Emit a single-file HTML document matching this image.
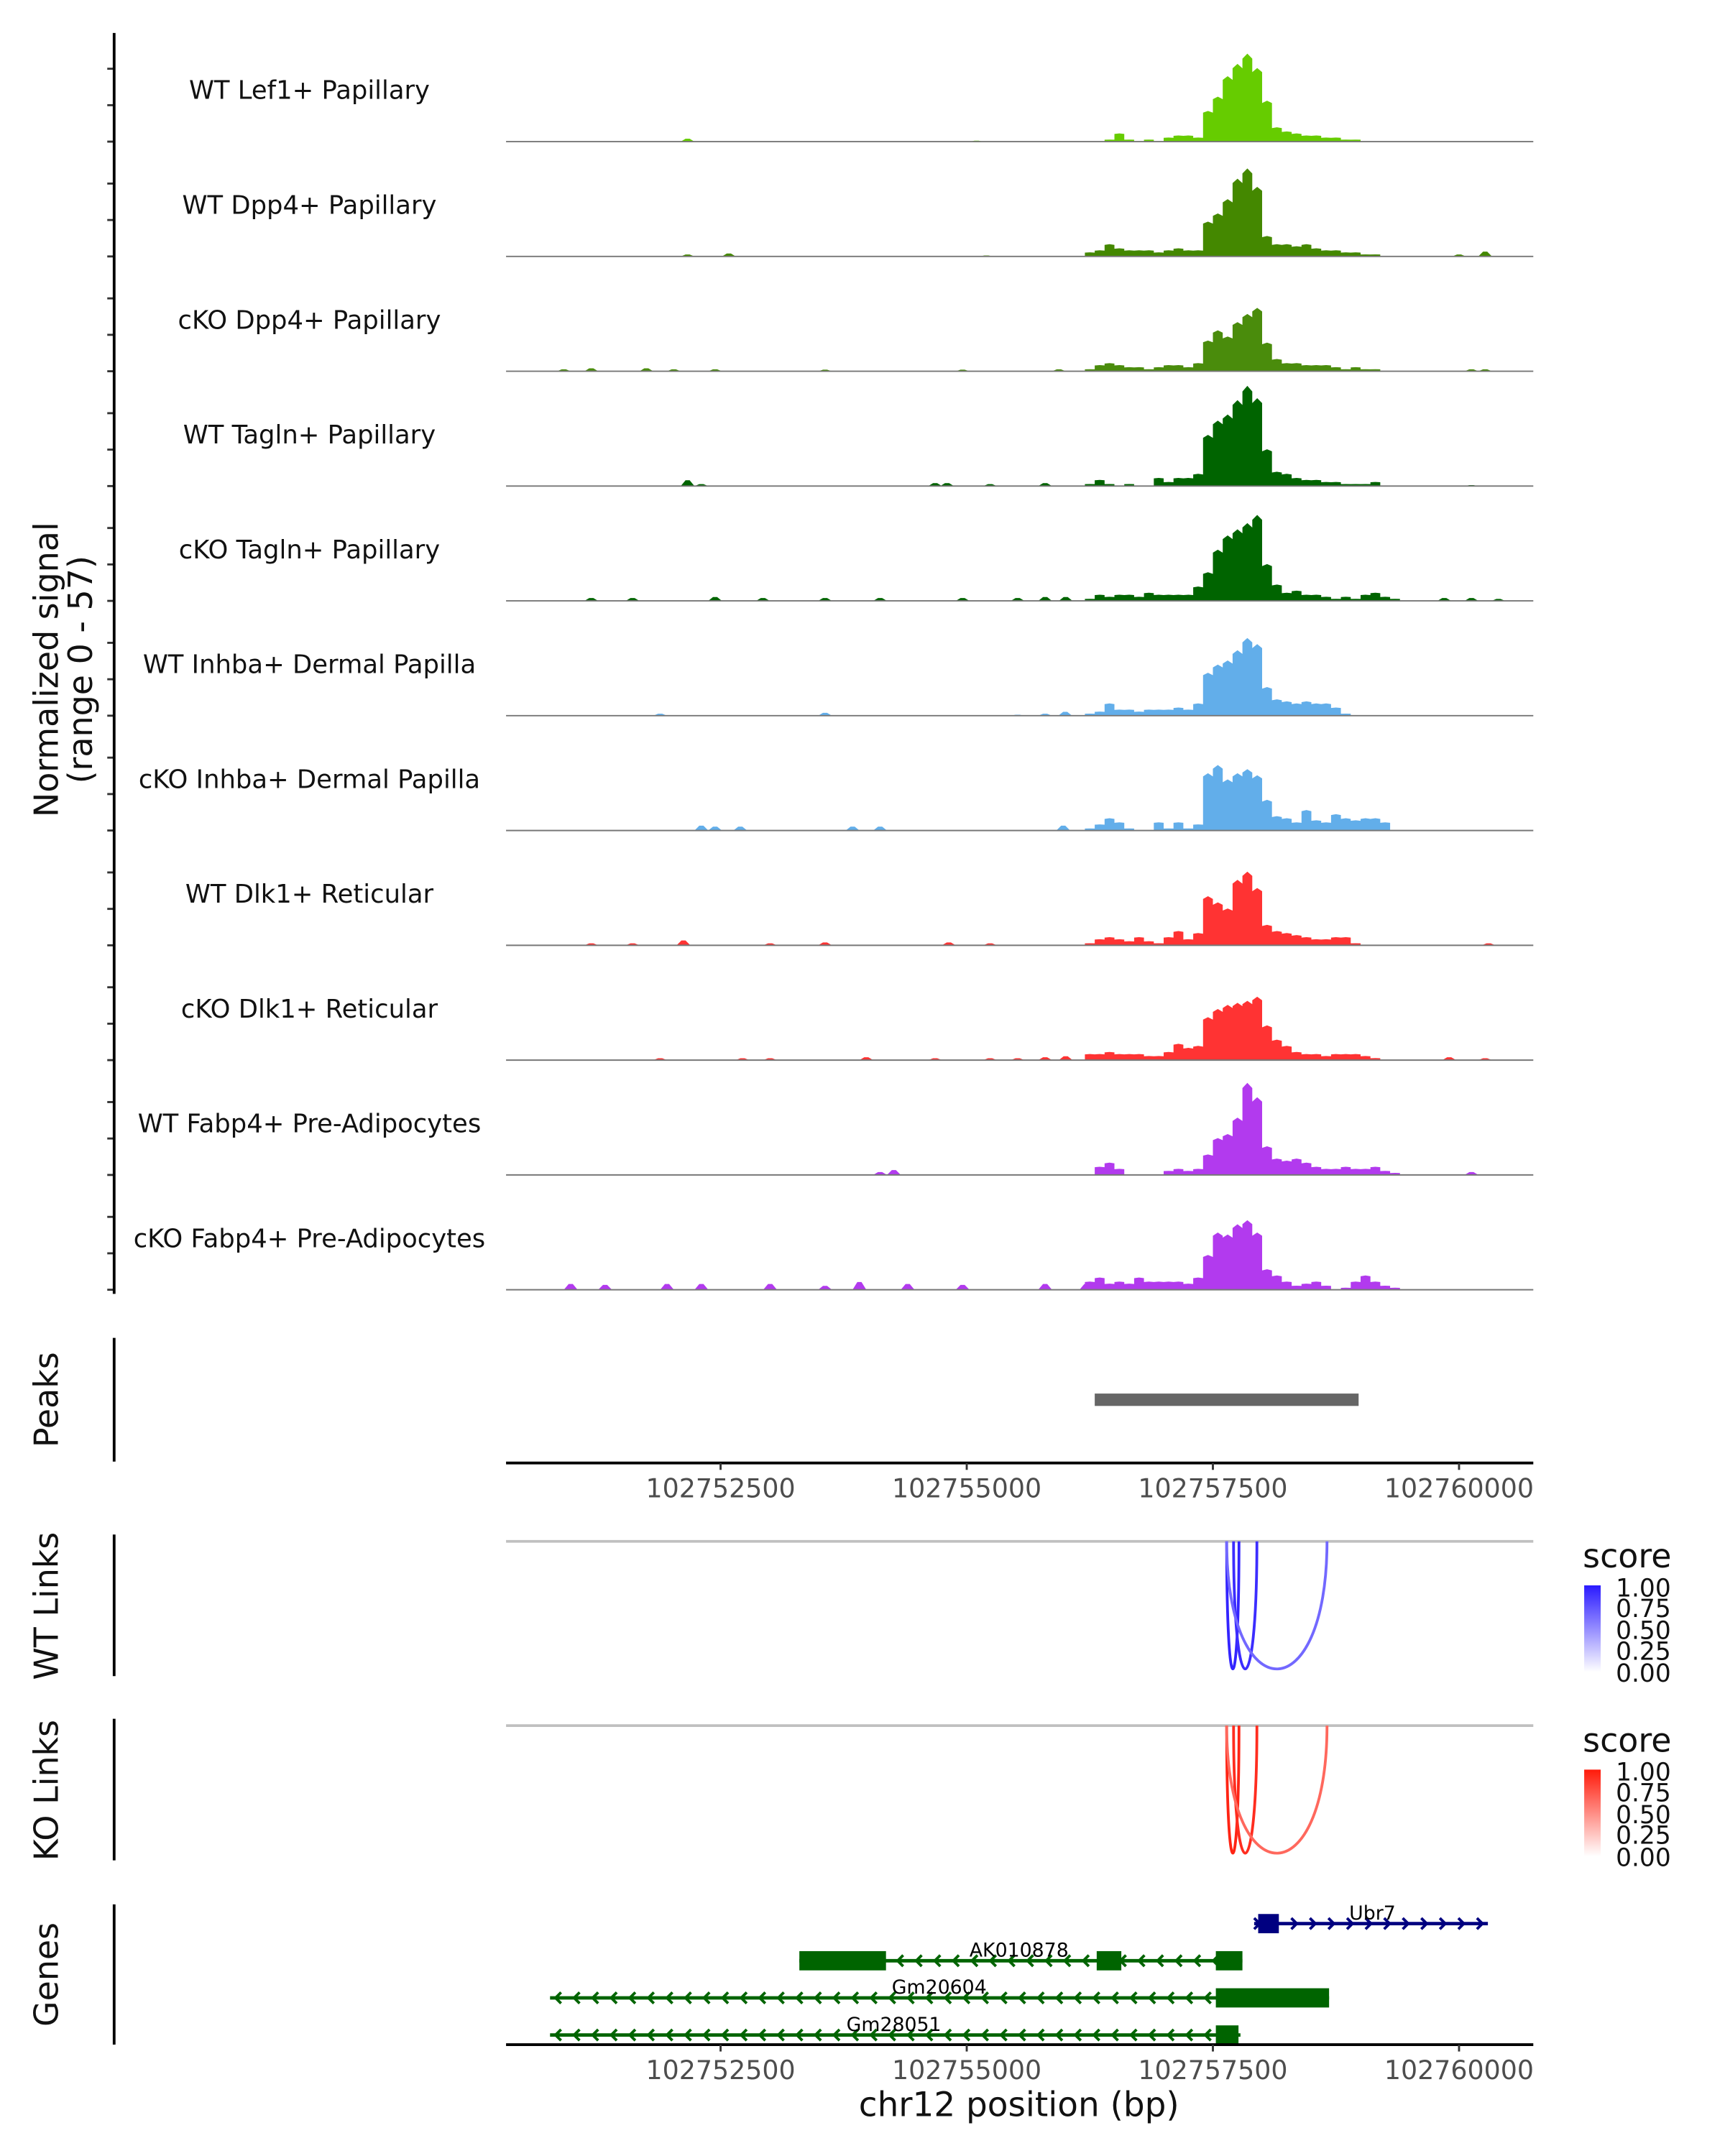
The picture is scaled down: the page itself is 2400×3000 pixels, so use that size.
<!DOCTYPE html>
<html><head><meta charset="utf-8"><style>
html,body{margin:0;padding:0;background:#fff;}
svg{display:block;font-family:"DejaVu Sans","Liberation Sans",sans-serif;}
</style></head><body>
<svg id="chart" xmlns="http://www.w3.org/2000/svg" width="2400" height="3000" viewBox="0 0 1254 1568" preserveAspectRatio="xMinYMin meet">
<defs>
<linearGradient id="gBlue" x1="0" y1="1" x2="0" y2="0"><stop offset="0" stop-color="#ffffff"/><stop offset="1" stop-color="#2a1aff"/></linearGradient>
<linearGradient id="gRed" x1="0" y1="1" x2="0" y2="0"><stop offset="0" stop-color="#ffffff"/><stop offset="1" stop-color="#ff1a0a"/></linearGradient>
</defs>
<g id="tracks"></g>
<text transform="translate(42,487) rotate(-90)" text-anchor="middle" font-size="24" fill="#111">Normalized signal</text>
<text transform="translate(67,487) rotate(-90)" text-anchor="middle" font-size="24" fill="#111">(range 0 - 57)</text>
<line x1="83" y1="24" x2="83" y2="941" stroke="#000" stroke-width="2"/>
<line x1="83" y1="973" x2="83" y2="1063" stroke="#000" stroke-width="2"/>
<text transform="translate(42,1018) rotate(-90)" text-anchor="middle" font-size="24" fill="#111">Peaks</text>
<g id="peaks"></g>
<g id="axis1"></g>
<line x1="83" y1="1116" x2="83" y2="1219" stroke="#000" stroke-width="2"/>
<text transform="translate(42,1168) rotate(-90)" text-anchor="middle" font-size="24" fill="#111">WT Links</text>
<line x1="83" y1="1250" x2="83" y2="1353" stroke="#000" stroke-width="2"/>
<text transform="translate(42,1302) rotate(-90)" text-anchor="middle" font-size="24" fill="#111">KO Links</text>
<g id="links"></g>
<g>
<text x="1151" y="1140" font-size="24" fill="#111">score</text>
<rect x="1152" y="1153" width="12" height="63" fill="url(#gBlue)"/>
<g font-size="18" fill="#111"><text x="1175" y="1161">1.00</text><text x="1175" y="1176">0.75</text><text x="1175" y="1192">0.50</text><text x="1175" y="1207">0.25</text><text x="1175" y="1223">0.00</text></g>
</g>
<g>
<text x="1151" y="1274" font-size="24" fill="#111">score</text>
<rect x="1152" y="1287" width="12" height="63" fill="url(#gRed)"/>
<g font-size="18" fill="#111"><text x="1175" y="1295">1.00</text><text x="1175" y="1310">0.75</text><text x="1175" y="1326">0.50</text><text x="1175" y="1341">0.25</text><text x="1175" y="1357">0.00</text></g>
</g>
<line x1="83" y1="1385" x2="83" y2="1487" stroke="#000" stroke-width="2"/>
<text transform="translate(42,1436) rotate(-90)" text-anchor="middle" font-size="24" fill="#111">Genes</text>
<g id="genes"></g>
<g id="axis2"></g>
<text x="741" y="1539" text-anchor="middle" font-size="24.5" fill="#111">chr12 position (bp)</text>
</svg>
<script>
const NS="http://www.w3.org/2000/svg";
const trackNames=["WT Lef1+ Papillary","WT Dpp4+ Papillary","cKO Dpp4+ Papillary","WT Tagln+ Papillary","cKO Tagln+ Papillary","WT Inhba+ Dermal Papilla","cKO Inhba+ Dermal Papilla","WT Dlk1+ Reticular","cKO Dlk1+ Reticular","WT Fabp4+ Pre-Adipocytes","cKO Fabp4+ Pre-Adipocytes"];
const trackColors=["#66cc00","#448800","#4a8c0c","#006400","#006400","#62aeea","#62aeea","#ff3333","#ff3333","#b23aee","#b23aee"];
const binStart=102756200;
const binSize=100;
const signalT1=[0,0,1,4,1,0,1,0,2,3,3,2,15,22,32,38,43,36,20,7,5,4,3,3,2,2,1,1,0,0,0,0,0];
const signalT2=[2,3,6,4,3,3,3,2,3,4,3,3,17,21,28,38,43,34,10,6,6,5,6,4,3,3,2,2,1,1,0,0,0];
const signalT3=[1,3,4,3,2,2,1,2,3,3,2,4,15,20,17,24,28,31,14,6,4,4,3,3,3,2,1,2,1,1,0,0,0];
const signalT4=[1,3,1,0,1,0,0,4,2,4,4,6,25,32,35,42,49,43,18,7,6,4,3,3,2,2,1,1,1,2,0,0,0];
const signalT5=[1,3,2,3,3,2,4,3,3,3,3,7,14,25,32,35,38,42,18,8,4,5,3,3,2,1,2,1,3,4,2,1,0];
const signalT6=[1,2,6,3,3,2,3,3,3,4,3,6,21,25,27,32,38,35,14,8,7,6,7,6,6,4,1,0,0,0,0,0,0];
const signalT7=[1,3,6,4,1,0,0,4,1,4,1,3,28,32,25,28,30,27,15,7,6,4,10,5,4,8,6,5,6,6,4,0,0];
const signalT8=[1,3,4,3,2,4,2,1,4,7,3,6,24,21,18,32,36,28,10,7,6,5,4,3,3,4,4,1,0,0,0,0,0];
const signalT9=[3,3,4,3,3,3,2,2,4,8,6,7,21,25,27,28,29,31,17,10,7,4,3,3,2,3,3,3,2,1,0,0,0];
const signalT10=[0,4,6,3,0,0,0,0,2,3,2,3,10,18,20,28,45,38,14,8,7,8,6,4,3,3,4,3,3,4,2,1,0];
const signalT11=[4,6,3,4,3,6,4,4,4,4,3,6,17,28,27,32,34,28,10,7,4,2,3,4,2,0,1,4,7,4,2,1,0];
const bumpsT1=[[102752165,1.5],[102755100,0.5]];
const bumpsT2=[[102752165,1],[102752584,1.5],[102755200,0.5],[102760000,1],[102760265,2.5]];
const bumpsT3=[[102750908,1],[102751187,1.5],[102751746,1.5],[102752025,1],[102752444,1],[102753561,0.8],[102754958,0.8],[102755936,1],[102760126,1],[102760265,1]];
const bumpsT4=[[102752165,3],[102752305,1],[102754679,1.5],[102754800,1.5],[102755237,1],[102755796,1.5],[102760126,0.5]];
const bumpsT5=[[102751187,1.5],[102751606,1.5],[102752444,2],[102752930,1.5],[102753561,1.5],[102754120,1.5],[102754958,1.5],[102755517,1.5],[102755796,2],[102756005,2],[102759850,1.5],[102760126,1.5],[102760400,1]];
const bumpsT6=[[102751886,1],[102753561,1.5],[102755517,0.5],[102755796,1],[102756000,2]];
const bumpsT7=[[102752305,2.5],[102752444,2],[102752700,2],[102753841,2],[102754120,2],[102755980,2.5]];
const bumpsT8=[[102751187,1],[102751606,1],[102752123,2.5],[102753003,1],[102753561,1.5],[102754818,1.5],[102755237,1],[102760300,1]];
const bumpsT9=[[102751886,1],[102752723,1],[102753003,1],[102753980,1.5],[102754679,1],[102755237,1],[102755517,1],[102755796,1.5],[102756005,2],[102759900,1.5],[102760265,1]];
const bumpsT10=[[102754260,2.5],[102754120,1.5],[102760126,1.5]];
const bumpsT11=[[102750978,3],[102751327,2.5],[102751956,3],[102752305,3],[102753003,3],[102753561,2],[102753910,4],[102754400,3],[102754958,2.5],[102755796,3],[102756215,3],[102759000,2]];
const trackSignals=[signalT1,signalT2,signalT3,signalT4,signalT5,signalT6,signalT7,signalT8,signalT9,signalT10,signalT11];
const trackBumps=[bumpsT1,bumpsT2,bumpsT3,bumpsT4,bumpsT5,bumpsT6,bumpsT7,bumpsT8,bumpsT9,bumpsT10,bumpsT11];
const xTicks=[102752500,102755000,102757500,102760000];
const peakRegions=[[102756300,102758980]];
const wtLinks=[[102757640,102757765,0.95],[102757710,102757947,0.9],[102757640,102758659,0.6]];
const koLinks=[[102757640,102757765,0.95],[102757710,102757947,0.9],[102757640,102758659,0.6]];
const geneNames=["Ubr7","AK010878","Gm20604","Gm28051"];
const geneStrands=[1,-1,-1,-1];
const geneSpans=[[102757919,102760293],[102753300,102757800],[102750768,102758680],[102750768,102757780]];
const geneExons=[[[102757960,102758170]],[[102753300,102754180],[102756320,102756570],[102757530,102757800]],[[102757530,102758680]],[[102757530,102757760]]];

const X0=368,X1=1115;
function xs(g){return 524+(g-102752500)*179/2500;}
const MAXSIG=57,TRACKH=80;
function ys(v,base){return base-v/MAXSIG*TRACKH;}
function mk(tag,attrs,parent){const e=document.createElementNS(NS,tag);for(const k in attrs)e.setAttribute(k,attrs[k]);parent.appendChild(e);return e;}

const tracksG=document.getElementById('tracks');
trackNames.forEach((name,i)=>{
  const base=103+i*83.5;
  const g=mk('g',{},tracksG);
  
  
  [0,26.5,53].forEach(o=>{const t=mk('line',{x1:78,x2:83,y1:base-o,y2:base-o,stroke:'#333','stroke-width':1.5},g);
    
    });
  const lbl=mk('text',{x:225,y:base-31,'text-anchor':'middle','font-size':18.5,fill:'#111'},g);
  lbl.textContent=name;
  
  
  const col=trackColors[i];
  trackBumps[i].forEach(b=>{
    const cx=xs(b[0]),h=b[1];
    const p=mk('polygon',{points:`${cx-5},${base} ${cx-1.5},${ys(h,base)} ${cx+1.5},${ys(h,base)} ${cx+5},${base}`,fill:col},g);
    
    
  });
  const sig=trackSignals[i];
  let pts=`${xs(binStart)},${base} `;
  sig.forEach((v,k)=>{const xa=xs(binStart+k*binSize),xb=xs(binStart+(k+1)*binSize);
    pts+=`${xa},${ys(v,base)} ${(xa+xb)/2},${ys(v*1.06,base)} ${xb},${ys(v,base)} `;});
  pts+=`${xs(binStart+sig.length*binSize)},${base}`;
  const area=mk('polygon',{points:pts,fill:col},g);
  
  
  const bl=mk('line',{x1:X0,x2:X1,y1:base,y2:base,stroke:'#777','stroke-width':1},g);
  
  
});

const peaksG=document.getElementById('peaks');
peakRegions.forEach(r=>{const e=mk('rect',{x:xs(r[0]),y:1013.5,width:xs(r[1])-xs(r[0]),height:9,fill:'#666'},peaksG);
  
  });

function axis(gid,y){
  const g=document.getElementById(gid);
  const l=mk('line',{x1:X0,x2:X1,y1:y,y2:y,stroke:'#000','stroke-width':2},g);
  
  
  xTicks.forEach(t=>{const tk=mk('line',{x1:xs(t),x2:xs(t),y1:y,y2:y+5,stroke:'#333','stroke-width':1.5},g);
    
    
    const tx=mk('text',{x:xs(t),y:y+25,'text-anchor':'middle','font-size':19,fill:'#4d4d4d'},g);
    tx.textContent=String(t);
    
    });
}
axis('axis1',1064);axis('axis2',1487);

const linksG=document.getElementById('links');
function drawLinks(arr,top,colorFn,nm){
  const gl=mk('line',{x1:X0,x2:X1,y1:top,y2:top,stroke:'#c0c0c0','stroke-width':2},linksG);
  
  
  arr.forEach(a=>{const x1=xs(a[0]),x2=xs(a[1]),d=93;
    const p=mk('path',{d:`M${x1},${top} C${x1},${top+d*1.33} ${x2},${top+d*1.33} ${x2},${top}`,fill:'none',stroke:colorFn(a[2]),'stroke-width':2},linksG);
    
    });
}
function mix(c,s){const r=Math.round(255+(c[0]-255)*s),g=Math.round(255+(c[1]-255)*s),b=Math.round(255+(c[2]-255)*s);return `rgb(${r},${g},${b})`;}
drawLinks(wtLinks,1121,s=>mix([42,26,255],s*0.85+0.15),'wt-link');
drawLinks(koLinks,1255,s=>mix([255,26,10],s*0.85+0.15),'ko-link');

const genesG=document.getElementById('genes');
const geneY=[1399,1426,1453,1480];
geneNames.forEach((nm,i)=>{
  const col=geneStrands[i]>0?'#000080':'#006400';
  const y=geneY[i];
  const g=mk('g',{},genesG);
  
  
  const a=xs(geneSpans[i][0]),b=xs(geneSpans[i][1]);
  mk('line',{x1:a,x2:b,y1:y,y2:y,stroke:col,'stroke-width':2.5},g);
  for(let x=a+4;x<b-2;x+=13.5){
    const d=geneStrands[i]>0?-4:4;
    mk('polyline',{points:`${x+d},${y-4} ${x},${y} ${x+d},${y+4}`,fill:'none',stroke:col,'stroke-width':2},g);
  }
  geneExons[i].forEach(e=>{const r=mk('rect',{x:xs(e[0]),y:y-7,width:xs(e[1])-xs(e[0]),height:14,fill:col},g);
    
    });
  const lx=[998,741,683,650][i];
  const t=mk('text',{x:lx,y:y-3,'text-anchor':'middle','font-size':14,fill:'#000'},g);
  t.textContent=nm;
  
  
});
</script>
</body></html>
